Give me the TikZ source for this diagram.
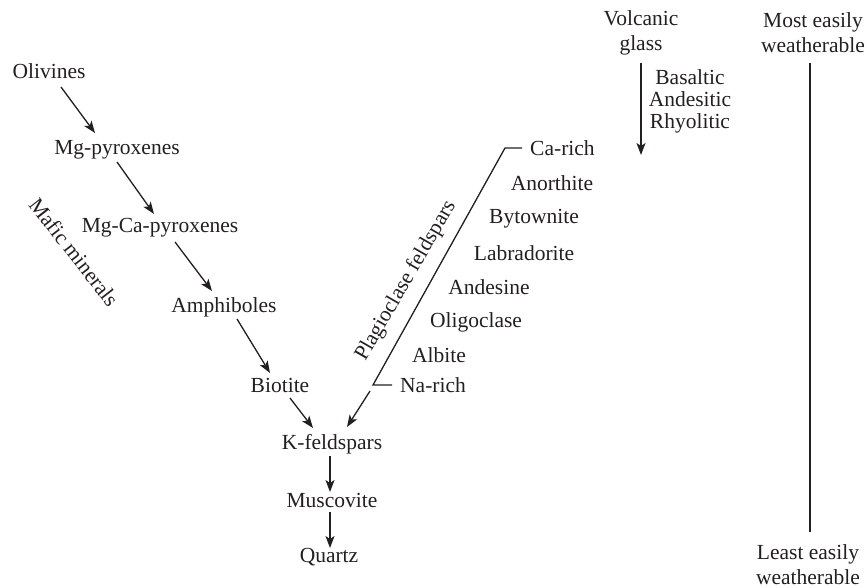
\documentclass[tikz,border=0pt]{standalone}
\usepackage{fontspec}
\setmainfont{Liberation Serif}
\usetikzlibrary{arrows.meta}
\definecolor{ink}{HTML}{231F20}
\begin{document}
\begin{tikzpicture}[x=1pt,y=-1pt,
  every node/.style={inner sep=0pt,text=ink,font=\fontsize{21.5}{25}\selectfont},
  lbl/.style={anchor=center},
  arr/.style={draw=ink,line width=1.3pt,-{Stealth[length=12pt,width=9pt,inset=3pt]}},
  ln/.style={draw=ink,line width=1.3pt}]
\useasboundingbox (0,0) rectangle (867,588);
% mafic series
\node[lbl] (olv) at (49,71) {Olivines};
\node[lbl] (mgp) at (117,150) {Mg-pyroxenes};
\node[lbl] (mgcp) at (160,228) {Mg-Ca-pyroxenes};
\node[lbl] (amph) at (224,307) {Amphiboles};
\node[lbl] (bio) at (280,385) {Biotite};
\node[lbl] (kf) at (332,444) {K-feldspars};
\node[lbl] (musc) at (332,500) {Muscovite};
\node[lbl] (qz) at (329,557) {Quartz};
\node[lbl,rotate=-52] (mafic) at (74,252) {Mafic minerals};
\draw[arr] ([shift={(12,16)}]olv.center) -- ([shift={(-22,-17)}]mgp.center);
\draw[arr] ([shift={(0,12)}]mgp.center) -- ([shift={(-6,-14)}]mgcp.center);
\draw[arr] ([shift={(15,14)}]mgcp.center) -- ([shift={(-12,-16)}]amph.center);
\draw[arr] ([shift={(13,12)}]amph.center) -- ([shift={(-10,-12)}]bio.center);
\draw[arr] ([shift={(10,13)}]bio.center) -- ([shift={(-19,-16)}]kf.center);
\draw[arr] ([shift={(-2,12)}]kf.center) -- ([shift={(-2,-8)}]musc.center);
\draw[arr] ([shift={(-2,12)}]musc.center) -- ([shift={(1,-9)}]qz.center);
% plagioclase series
\node[anchor=west] (carich) at (530,148) {Ca-rich};
\node[lbl] (anor) at (552,183) {Anorthite};
\node[lbl] (byt) at (534,219) {Bytownite};
\node[lbl] (lab) at (524,253) {Labradorite};
\node[lbl] (ande) at (489,287) {Andesine};
\node[lbl] (olig) at (476,322) {Oligoclase};
\node[lbl] (alb) at (439,355) {Albite};
\node[anchor=west] (narich) at (400,385) {Na-rich};
\node[lbl,rotate=60] (plag) at (406,281) {Plagioclase feldspars};
\coordinate (ptop) at (505,148);
\coordinate (pbot) at (373,385);
\draw[ln] ([xshift=-8pt]carich.west) -- (ptop) -- (pbot) -- ([xshift=-8pt]narich.west);
\coordinate (pstart) at (370,391);
\draw[arr] (pstart) -- ([shift={(15,-17)}]kf.center);
% volcanic glass
\node[lbl,align=center] (vg) at (641,33) {Volcanic\\glass};
\node[lbl,align=center,font=\fontsize{21.5}{22}\selectfont] (types) at (690,101) {Basaltic\\Andesitic\\Rhyolitic};
\coordinate (vgend) at (641,155);
\draw[arr] (641,63) -- (vgend);
% weatherability scale
\node[lbl,align=center] (most) at (813,33) {Most easily\\weatherable};
\node[lbl,align=center] (least) at (808,565) {Least easily\\weatherable};
\coordinate (wtop) at (810,63);
\coordinate (wbot) at (810,532);
\draw[ln] (wtop) -- (wbot);
\end{tikzpicture}
\end{document}
